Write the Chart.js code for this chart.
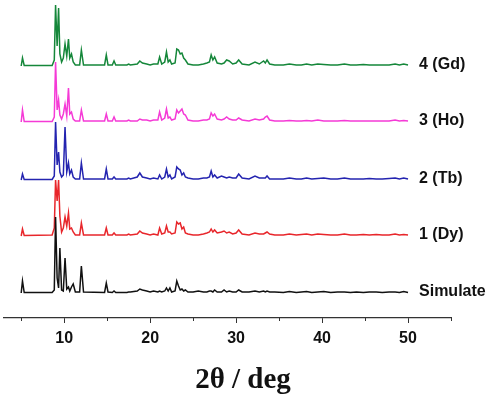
<!DOCTYPE html>
<html>
<head>
<meta charset="utf-8">
<script src="https://cdn.jsdelivr.net/npm/chart.js@4.4.1/dist/chart.umd.min.js"></script>
<style>
  html,body{margin:0;padding:0;background:#fff;}
  #wrap{width:491px;height:396px;position:relative;}
</style>
</head>
<body>
<div id="wrap"><canvas id="c" width="491" height="396"></canvas></div>
<script>
// 2θ sample positions (deg)
const twoTheta = [5.0,5.15,5.35,8.6,8.85,9.0,9.18,9.35,9.5,9.7,9.9,10.1,10.3,10.5,10.65,10.85,11.05,11.3,11.8,12.0,12.25,14.7,14.9,15.1,15.6,15.8,16.0,17.3,17.5,17.7,18.5,18.8,19.1,19.6,20.0,20.4,20.9,21.1,21.35,21.7,21.9,22.1,22.3,22.5,22.9,23.1,23.3,23.5,23.7,23.9,24.1,24.4,25.0,25.6,26.2,26.6,26.9,27.1,27.3,27.5,27.8,28.3,28.6,28.9,29.2,29.6,30.0,30.3,30.7,31.5,32.2,32.7,33.2,33.4,33.6,33.9,34.5,35.5,36.2,37.0,37.6,38.2,38.8,39.5,40.2,41.0,41.8,42.6,43.3,44.0,44.8,45.5,46.3,47.0,47.8,48.5,49.0,49.5,50.0];

// intensities (arbitrary units) per pattern
const simulate = [0,12,0.5,0.5,3,76,15,5,45,3,2,35,4,6,2,6,9,1,1,27,1,0.5,10,1,0.5,2,0.5,0.5,1,1,2,4,3,2,1,2,1,2,1,2,5,2,5,1,2,12,7,3,4,2,3,1,1,2,1,1,2,2,1,3,1,1,3,1,2,1,1,3,1,1,2,1,2,1,2,1,1,0.5,1.5,0.5,1,1.5,0.5,1,1.5,0.5,1,1,0.5,1,0.5,1,1,0.5,1,1,0.5,1.5,0.5];
const dy = [0,7,0.5,1,8,56,35,56,20,4,8,19,10,23,7,8,4,1,1,13,1,1,8,1,1,3,1,1,2,1,2,5,3,2,1,2,1,8,2,3,10,4,4,2,3,14,12,13,7,9,3,2,1,1,2,3,4,7,4,6,3,4,5,3,4,2,3,6,2,1,3,2,2,3,4,2,1,1,2,1,1.5,2,1,2,1.5,1,1,2,1,1,1.5,1,1.5,1,1,2,1,1.5,1];
const tb = [0,6,0.5,0.5,4,58,15,28,8,3,5,53,8,17,6,10,3,1,1,17,1,1,11,1,1,3,1,1,2,1,3,7,3,2,1,2,1,5,1,3,11,3,5,1,3,13,11,10,5,7,3,2,1,1,2,2,3,9,3,5,2,4,3,2,3,2,2,6,2,1,4,2,2,2,4,1,1,1,2,1,1,2,1,1.5,2,1,1,2,1,1,1,1.5,1,1,1.5,2,1,2,1];
const ho = [0,12,0.5,0.5,5,60,12,22,7,3,8,18,6,34,8,10,3,1,1,12,1,1,8,1,1,5,1,1,2,1,1,3,2,2,1,2,2,10,2,4,13,4,5,2,3,12,9,11,13,8,7,2,1,1,2,2,3,9,6,8,3,2,3,5,3,2,2,4,2,1,3,2,3,5,6,2,1,1,1.5,1,1,1.5,1,2,1,1,1,1.5,1,1,1,1,1,1,1,2,1,1.5,1];
const gd = [0,8,0.5,0.5,6,61,20,58,12,4,8,22,10,27,8,12,4,1,1,16,1,1,11,1,1,5,1,1,2,1,2,5,3,2,1,2,2,9,2,4,14,4,6,2,3,17,16,12,13,8,6,2,1,1,2,3,4,11,6,9,3,2,3,6,5,2,3,6,2,1,4,2,5,3,6,2,1,1,2,1,1,2,1,2,1.5,1,1,2,1,1,1.5,1,1,1,1,2,1,2,1];

const seriesNames = ['Simulate','1 (Dy)','2 (Tb)','3 (Ho)','4 (Gd)'];
const seriesData = [simulate, dy, tb, ho, gd];
const offsets = [25, 82, 138, 196, 252];
const colors = ['#111111','#e8262b','#2424b0','#f53ad6','#15873a'];
const majorTicks = [10,20,30,40,50];
const minorTicks = [5,15,25,35,45,55];

const datasets = seriesData.map((arr, k) => ({
  label: seriesNames[k],
  data: twoTheta.map((x, i) => ({x: x, y: offsets[k] + arr[i]})),
  borderColor: colors[k],
  borderWidth: 1.5,
  pointRadius: 0,
  tension: 0,
  fill: false
}));

const extras = {
  id: 'extras',
  afterDraw(chart) {
    const ctx = chart.ctx, xs = chart.scales.x, ys = chart.scales.y;
    ctx.save();
    // minor ticks
    ctx.strokeStyle = '#333';
    ctx.lineWidth = 1;
    const yb = xs.top;
    minorTicks.forEach(v => {
      const px = Math.round(xs.getPixelForValue(v)) + 0.5;
      ctx.beginPath(); ctx.moveTo(px, yb); ctx.lineTo(px, yb + 3); ctx.stroke();
    });
    // series labels
    ctx.font = 'bold 16px "Liberation Sans", Arial, sans-serif';
    ctx.fillStyle = '#111';
    ctx.textBaseline = 'middle';
    ctx.textAlign = 'left';
    const lx = xs.getPixelForValue(50) + 11;
    seriesNames.forEach((n, k) => {
      ctx.fillText(n, lx, ys.getPixelForValue(offsets[k]) - 1);
    });
    // axis title
    ctx.font = 'bold 29px "Liberation Serif", "Times New Roman", serif';
    ctx.textAlign = 'center';
    ctx.textBaseline = 'alphabetic';
    ctx.fillText('2\u03B8 / deg', 243, 388);
    ctx.restore();
  }
};

new Chart(document.getElementById('c'), {
  type: 'line',
  data: { datasets },
  options: {
    responsive: false,
    animation: false,
    events: [],
    layout: { padding: { left: 4, right: 40, top: 0, bottom: 0 } },
    plugins: { legend: { display: false }, tooltip: { enabled: false } },
    scales: {
      x: {
        type: 'linear',
        min: 3, max: 55,
        afterBuildTicks: (s) => { s.ticks = majorTicks.map(v => ({value: v})); },
        afterFit: (s) => { s.height = 78; },
        border: { display: true, color: '#333', width: 1.2 },
        grid: { drawOnChartArea: false, drawTicks: true, tickLength: 5, color: '#333' },
        ticks: {
          autoSkip: false, maxRotation: 0,
          padding: 6,
          color: '#111',
          font: { family: '"Liberation Sans", Arial, sans-serif', size: 16, weight: 'bold' },
          callback: (v) => String(v)
        }
      },
      y: { type: 'linear', min: 0, max: 318, display: false }
    }
  },
  plugins: [extras]
});
</script>
</body>
</html>
